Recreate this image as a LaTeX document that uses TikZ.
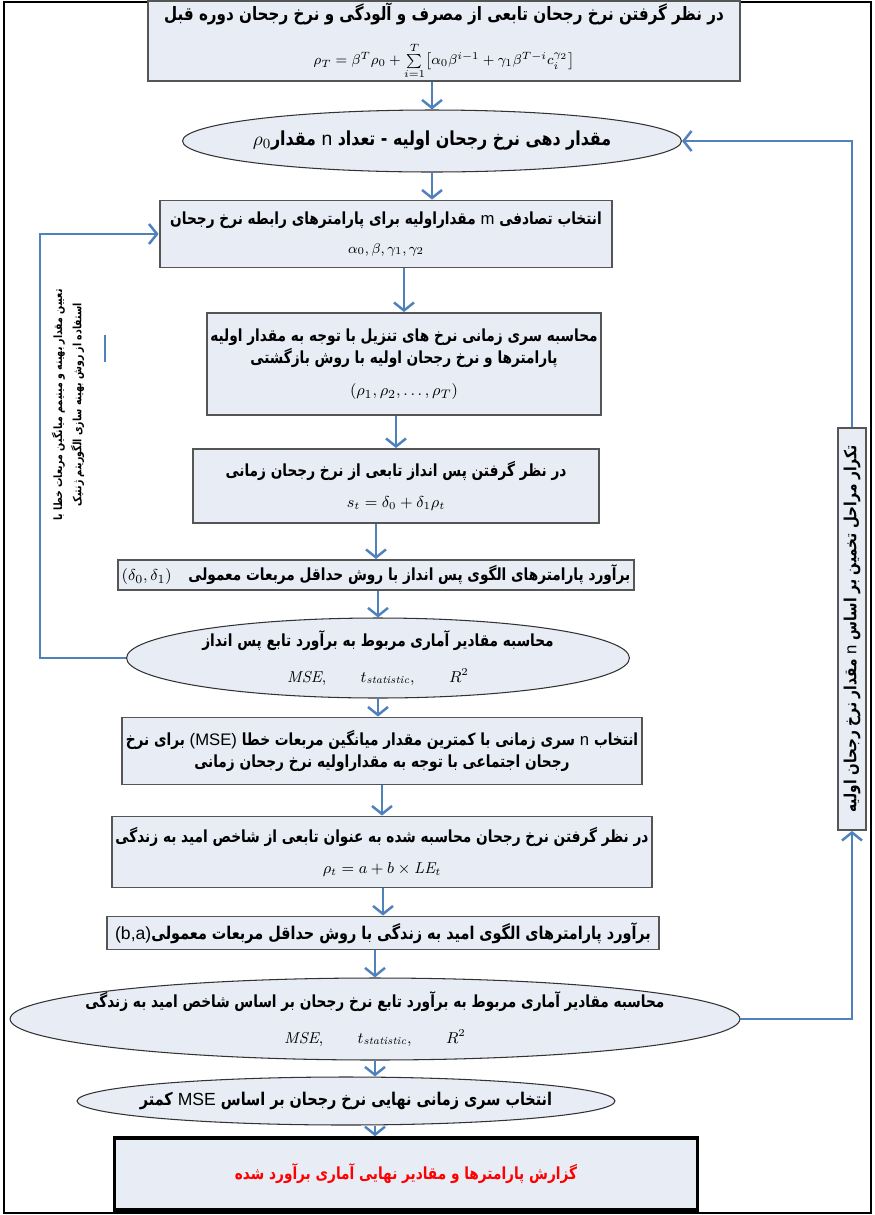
\documentclass[tikz,border=0pt]{standalone}
\usepackage{amsmath,amssymb}
\usepackage{fontspec}
\usetikzlibrary{arrows.meta,shapes}
\newfontfamily\arabicfont[Script=Arabic,FakeStretch=0.82]{DejaVu Sans}
\newfontfamily\latfont{Liberation Sans}
\TeXXeTstate=1
\newcommand{\fa}[1]{{\arabicfont\bfseries\beginR #1\endR}}
\newcommand{\lat}[1]{\beginL{\latfont\mdseries #1}\endL}
\definecolor{boxfill}{RGB}{231,236,245}
\definecolor{boxline}{RGB}{85,85,85}
\definecolor{flow}{RGB}{79,129,189}

\begin{document}
\begin{tikzpicture}[x=0.02cm,y=-0.02cm]
\fontsize{9.5}{13}\selectfont
\tikzstyle{stepbox} = [draw=boxline, fill=boxfill, line width=1.1pt, align=center, inner sep=2pt]
\tikzstyle{stepell} = [draw=black!80, fill=boxfill, ellipse, line width=0.6pt, inner sep=0pt]
\tikzstyle{steptxt} = [align=center, inner sep=0pt]
\tikzstyle{flowarr} = [draw=flow, line width=1.4pt, -{Straight Barb[length=1.6mm,width=4mm]}]
\useasboundingbox (0,0) rectangle (875,1215);
\draw[line width=1.2pt] (4,2) rectangle (871,1213);
\path
(444,41) node [stepbox, minimum width=11.84cm, minimum height=1.46cm, inner sep=1pt] (param)
  {\fontsize{10.5}{12}\selectfont\fa{در نظر گرفتن نرخ رجحان تابعی از مصرف و آلودگی و نرخ رجحان دوره قبل}\\[9pt]
   \footnotesize $\rho_T=\beta^T\rho_0+\sum\limits_{i=1}^{T}\bigl[\alpha_0\beta^{i-1}+\gamma_1\beta^{T-i}c_i^{\gamma_2}\bigr]$}
(432,141) node [stepell, minimum width=9.98cm, minimum height=1.24cm] (init) {}
(432,141) node [steptxt, font=\fontsize{11}{13}\selectfont] (inittxt)
  {\fa{مقدار دهی نرخ رجحان اولیه - تعداد \lat{n} مقدار\beginL$\rho_0$\endL}}
(386,234) node [stepbox, minimum width=9.06cm, minimum height=1.34cm] (rand)
  {\fa{انتخاب تصادفی \lat{m} مقداراولیه برای پارامترهای رابطه نرخ رجحان}\\[3pt]
   \footnotesize $\alpha_0,\beta,\gamma_1,\gamma_2$}
(404,364) node [stepbox, minimum width=7.84cm, minimum height=2.04cm] (series)
  {\fa{محاسبه سری زمانی نرخ های تنزیل با توجه به مقدار اولیه}\\
   \fa{پارامترها و نرخ رجحان اولیه با روش بازگشتی}\\[5pt]
   $(\rho_1,\rho_2,\ldots,\rho_T)$}
(396,486) node [stepbox, minimum width=8.14cm, minimum height=1.48cm] (save)
  {\fa{در نظر گرفتن پس انداز تابعی از نرخ رجحان زمانی}\\[5pt]
   \small $s_t=\delta_0+\delta_1\rho_t$}
(376,575) node [stepbox, minimum width=10.14cm, minimum height=0.6cm] (ols1)
  {\fa{برآورد پارامترهای الگوی پس انداز با روش حداقل مربعات معمولی\quad\beginL$(\delta_0,\delta_1)$\endL}}
(378,658) node [stepell, minimum width=10.06cm, minimum height=1.6cm] (stat1) {}
(378,658) node [steptxt] (stat1txt)
  {\fa{محاسبه مقادیر آماری مربوط به برآورد تابع پس انداز}\\[7pt]
   \small $\mathit{MSE},\qquad t_{\mathit{statistic}},\qquad R^{2}$}
(382,751) node [stepbox, minimum width=10.1cm, minimum height=1.34cm] (mse)
  {\fa{انتخاب \lat{n} سری زمانی با کمترین مقدار میانگین مربعات خطا \lat{(MSE)} برای نرخ}\\
   \fa{رجحان اجتماعی با توجه به مقداراولیه نرخ رجحان زمانی}}
(382,852) node [stepbox, minimum width=10.7cm, minimum height=1.42cm] (life)
  {\fa{در نظر گرفتن نرخ رجحان محاسبه شده به عنوان تابعی از شاخص امید به زندگی}\\[5pt]
   \small $\rho_t=a+b\times \mathit{LE}_t$}
(383,933) node [stepbox, minimum width=11.06cm, minimum height=0.66cm, font=\fontsize{10}{13}\selectfont] (ols2)
  {\fa{برآورد پارامترهای الگوی امید به زندگی با روش حداقل مربعات معمولی\lat{(b,a)}}}
(375,1019) node [stepell, minimum width=14.6cm, minimum height=1.64cm] (stat2) {}
(375,1019) node [steptxt] (stat2txt)
  {\fa{محاسبه مقادیر آماری مربوط به برآورد تابع نرخ رجحان بر اساس شاخص امید به زندگی}\\[7pt]
   \small $\mathit{MSE},\qquad t_{\mathit{statistic}},\qquad R^{2}$}
(346,1101) node [stepell, minimum width=10.76cm, minimum height=0.96cm] (final) {}
(346,1101) node [steptxt, font=\fontsize{10}{13}\selectfont] (finaltxt)
  {\fa{انتخاب سری زمانی نهایی نرخ رجحان بر اساس \lat{MSE} کمتر}}
(406,1174) node [stepbox, draw=black, line width=2pt, minimum width=11.66cm, minimum height=1.44cm] (report)
  {\color{red}\fa{گزارش پارامترها و مقادیر نهایی آماری برآورد شده}}
(68,405) node [steptxt, rotate=90, font=\fontsize{6.5}{11}\selectfont] (gen)
  {\fa{تعیین مقدار بهینه و مینیمم میانگین مربعات خطا با}\\
   \fa{استفاده از روش بهینه سازی الگوریتم ژنتیک}}
(852,629) node [stepbox, rotate=90, minimum width=8.04cm, minimum height=0.56cm, inner sep=1pt,
  font=\fontsize{9.5}{11}\selectfont] (rep)
  {\fa{تکرار مراحل تخمین بر اساس \lat{n} مقدار نرخ رجحان اولیه}};
\coordinate (lft) at (40,400);
\draw[flowarr] (param.south -| init.north) -- (init.north);
\draw[flowarr] (init.south) -- (init.south |- rand.north);
\draw[flowarr] (rand.south -| series.north) -- (series.north);
\draw[flowarr] (series.south -| save.north) -- (save.north);
\draw[flowarr] (save.south -| ols1.north) -- (ols1.north);
\draw[flowarr] (ols1.south -| stat1.north) -- (stat1.north);
\draw[flowarr] (stat1.south) -- (stat1.south |- mse.north);
\draw[flowarr] (mse.south -| life.north) -- (life.north);
\draw[flowarr] (life.south -| ols2.north) -- (ols2.north);
\draw[flowarr] (ols2.south -| stat2.north) -- (stat2.north);
\draw[flowarr] (stat2.south) -- (stat2.south |- final.north);
\draw[flowarr] (final.south -| stat2.south) -- (stat2.south |- report.north);
\draw[flowarr] (stat1.west) -| (lft) |- (rand.west);
\draw[flowarr] (stat2.east) -| (rep.west);
\draw[flowarr] (rep.east) |- (init.east);
\draw[flow, line width=0.8pt] (105,335) -- (105,362);
\end{tikzpicture}
\end{document}
